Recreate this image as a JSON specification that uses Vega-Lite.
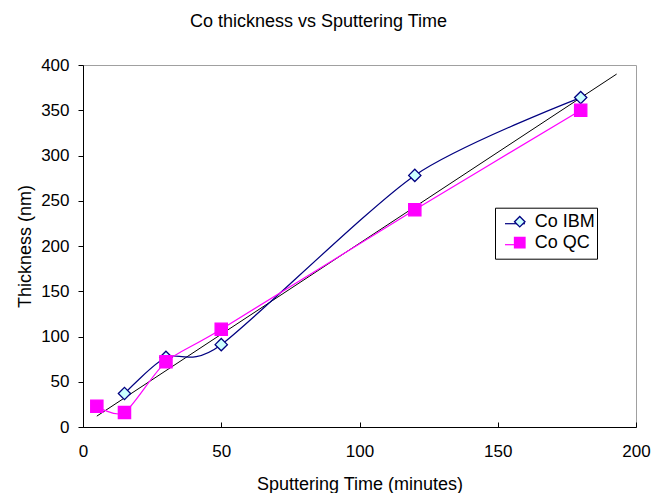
{
  "$schema": "https://vega.github.io/schema/vega-lite/v6.json",
  "width": 553,
  "height": 362,
  "autosize": "none",
  "padding": {"left": 83, "top": 65, "right": 16, "bottom": 66},
  "background": "white",
  "config": {
    "font": "Liberation Sans",
    "view": {"stroke": "#a0a0a0", "strokeWidth": 1},
    "axis": {
      "grid": false,
      "domainColor": "black",
      "tickColor": "black",
      "labelColor": "black",
      "titleColor": "black",
      "labelFont": "Liberation Sans",
      "titleFont": "Liberation Sans",
      "labelFontSize": 17,
      "titleFontSize": 18,
      "titleFontWeight": "normal",
      "labelFlush": false
    }
  },
  "title": {
    "text": "Co thickness vs Sputtering Time",
    "font": "Liberation Sans",
    "fontSize": 18,
    "fontWeight": "normal",
    "color": "black",
    "offset": 25,
    "dx": -41
  },
  "datasets": {
    "series": [
      {"t": 15, "thickness": 37, "series": "Co IBM", "name": "Co IBM"},
      {"t": 30, "thickness": 77, "series": "Co IBM", "name": "Co IBM"},
      {"t": 50, "thickness": 91, "series": "Co IBM", "name": "Co IBM"},
      {"t": 120, "thickness": 278, "series": "Co IBM", "name": "Co IBM"},
      {"t": 180, "thickness": 364, "series": "Co IBM", "name": "Co IBM"},
      {"t": 5, "thickness": 23, "series": "Co QC", "name": "Co QC"},
      {"t": 15, "thickness": 16, "series": "Co QC", "name": "Co QC"},
      {"t": 30, "thickness": 72, "series": "Co QC", "name": "Co QC"},
      {"t": 50, "thickness": 108, "series": "Co QC", "name": "Co QC"},
      {"t": 120, "thickness": 240, "series": "Co QC", "name": "Co QC"},
      {"t": 180, "thickness": 350, "series": "Co QC", "name": "Co QC"}
    ],
    "trend": [
      {"t": 5, "thickness": 12},
      {"t": 193, "thickness": 390}
    ]
  },
  "layer": [
    {
      "data": {"name": "trend"},
      "mark": {"type": "line", "color": "black", "strokeWidth": 1},
      "encoding": {
        "x": {"field": "t", "type": "quantitative"},
        "y": {"field": "thickness", "type": "quantitative"}
      }
    },
    {
      "data": {"name": "series"},
      "mark": {"type": "line", "interpolate": "cardinal", "tension": 0.25, "strokeWidth": 1.2},
      "encoding": {
        "x": {
          "field": "t", "type": "quantitative",
          "scale": {"domain": [0, 200], "nice": false},
          "axis": {"title": "Sputtering Time (minutes)", "values": [0, 50, 100, 150, 200], "tickSize": -5, "labelPadding": 21, "titlePadding": 16}
        },
        "y": {
          "field": "thickness", "type": "quantitative",
          "scale": {"domain": [0, 400], "nice": false},
          "axis": {"title": "Thickness (nm)", "values": [0, 50, 100, 150, 200, 250, 300, 350, 400], "tickSize": 5, "labelPadding": 9, "titlePadding": 6}
        },
        "color": {
          "field": "series", "type": "nominal",
          "scale": {"range": ["#000080", "#FF00FF"]},
          "legend": {
            "title": null,
            "orient": "none",
            "legendX": 412,
            "legendY": 142.7,
            "padding": 5,
            "strokeColor": "black",
            "symbolType": "stroke",
            "symbolSize": 400,
            "symbolOffset": 4,
            "symbolStrokeWidth": 1.2,
            "labelFontSize": 18,
            "labelExpr": "''",
            "labelOffset": 66,
            "rowPadding": 1
          }
        }
      }
    },
    {
      "data": {"name": "series"},
      "mark": {"type": "point", "filled": true, "opacity": 1, "size": 150, "strokeWidth": 1.3},
      "encoding": {
        "x": {"field": "t", "type": "quantitative"},
        "y": {"field": "thickness", "type": "quantitative"},
        "shape": {
          "field": "name", "type": "nominal",
          "scale": {"domain": ["Co IBM", "Co QC"], "range": ["diamond", "square"]},
          "legend": {
            "title": null,
            "orient": "none",
            "legendX": 422.75,
            "legendY": 142.7,
            "padding": 5,
            "symbolSize": 110,
            "symbolStrokeWidth": 1.3,
            "labelFontSize": 18,
            "labelColor": "black",
            "labelOffset": 6,
            "rowPadding": 3
          }
        },
        "fill": {
          "field": "name", "type": "nominal",
          "scale": {"domain": ["Co IBM", "Co QC"], "range": ["#CCFFFF", "#FF00FF"]}
        },
        "stroke": {
          "field": "name", "type": "nominal",
          "scale": {"domain": ["Co IBM", "Co QC"], "range": ["#000080", "#FF00FF"]}
        }
      }
    }
  ]
}
